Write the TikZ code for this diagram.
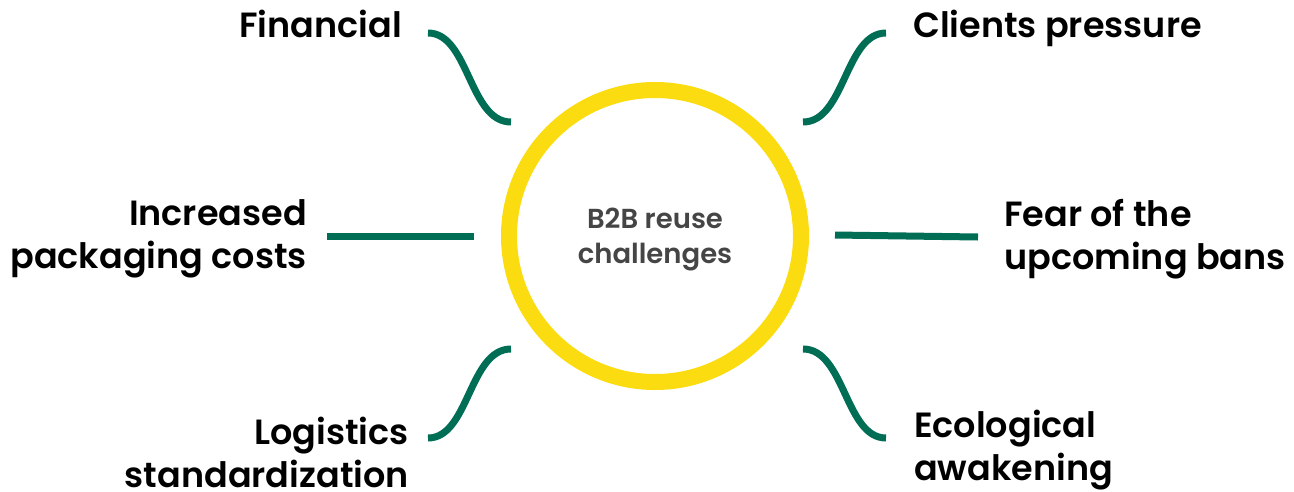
\documentclass[tikz,border=0pt]{standalone}
\usepackage{fontspec}
\setmainfont{Poppins}
\newfontfamily\labfont{Poppins SemiBold}
\definecolor{ringyellow}{HTML}{FBDC10}
\definecolor{linkgreen}{HTML}{006D55}
\definecolor{hubgray}{HTML}{454545}
\begin{document}
\begin{tikzpicture}[x=1pt,y=-1pt,
  lab/.style={inner sep=0pt, font=\labfont\fontsize{35}{43}\selectfont, text=black},
  link/.style={draw=linkgreen, line width=7pt},
  hub/.style={circle, draw=ringyellow, line width=16pt, minimum size=292pt, inner sep=0pt},
  hubtext/.style={inner sep=0pt, font=\labfont\fontsize{27.5}{35}\selectfont, text=hubgray, align=center}]
\useasboundingbox (0,0) rectangle (1294,491);
% hub
\node[hub] (hub) at (655,236) {};
\node[hubtext, anchor=base] (hubt) at (655,263) {B2B reuse\\challenges};
% labels
\node[lab, anchor=base east] (fin) at (402,37) {Financial};
\node[lab, anchor=base west] (cli) at (913,37) {Clients pressure};
\node[lab, anchor=base east, align=right] (inc) at (307,268) {Increased\\packaging costs};
\node[lab, anchor=base west, align=left] (fear) at (1004,269) {Fear of the\\upcoming bans};
\node[lab, anchor=base east, align=right] (log) at (409,487) {Logistics\\standardization};
\node[lab, anchor=base west, align=left] (eco) at (914,480) {Ecological\\awakening};
% connector ends
\coordinate (finA) at (428,33);  \coordinate (finB) at (511,122);
\coordinate (cliA) at (886,33);  \coordinate (cliB) at (803,122);
\coordinate (incA) at (327,236); \coordinate (incB) at (474,236);
\coordinate (fearA) at (978,237); \coordinate (fearB) at (835,235);
\coordinate (logA) at (428,438); \coordinate (logB) at (511,349);
\coordinate (ecoA) at (886,438); \coordinate (ecoB) at (803,349);
% connectors
\draw[link] (finA) .. controls (469,33) and (469,122) .. (finB);
\draw[link] (cliA) .. controls (845,33) and (845,122) .. (cliB);
\draw[link] (incA) -- (incB);
\draw[link] (fearA) -- (fearB);
\draw[link] (logA) .. controls (469,438) and (469,349) .. (logB);
\draw[link] (ecoA) .. controls (845,438) and (845,349) .. (ecoB);
\end{tikzpicture}
\end{document}
